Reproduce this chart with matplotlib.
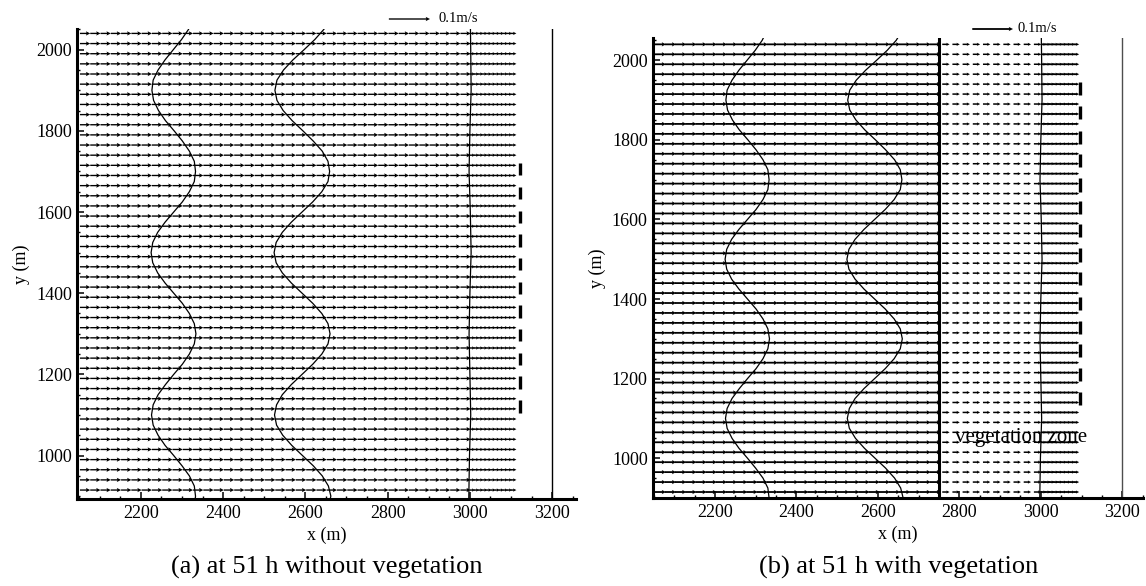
import matplotlib
matplotlib.use('Agg')
import matplotlib.pyplot as plt
import numpy as np

plt.rcParams['font.family'] = ['Liberation Serif', 'DejaVu Serif']

# rows and columns of the computational mesh (m)
row_y = np.arange(915, 2041, 25)
col_open_a = np.arange(2052, 2990, 25)
col_near_a = np.arange(3000, 3110, 10)
col_open_b = np.arange(2052, 2745, 25)
col_veg_b = np.arange(2758, 2990, 25)
col_near_b = np.arange(3000, 3084, 10)

# x-velocity in each zone (m/s)
u_open_a = 0.025
u_near_a = 0.013
u_open_b = 0.028
u_veg_b = 0.018
u_near_b = 0.014

# cross-shore velocity at the closed end (tops of the bars, m)
bars_a = [1720, 1662, 1603, 1545, 1486, 1428, 1370, 1311, 1253, 1195, 1136]
bars_b = [1946, 1885, 1823, 1765, 1703, 1647, 1588, 1527, 1468, 1405, 1346, 1287, 1226, 1166]
bar_len_a = 30
bar_len_b = 33
end_a = 3121
end_b = 3097

# wavy lines
curve_y = [875, 900, 925, 950, 975, 1000, 1025, 1050, 1075, 1100, 1125, 1150, 1175, 1200,
           1225, 1250, 1275, 1300, 1325, 1350, 1375, 1400, 1425, 1450, 1475, 1500, 1525,
           1550, 1575, 1600, 1625, 1650, 1675, 1700, 1725, 1750, 1775, 1800, 1825, 1850,
           1875, 1900, 1925, 1950, 1975, 2000, 2025, 2050, 2075]
curve1_x = [2330, 2333, 2330, 2318, 2300, 2280, 2259, 2242, 2230, 2226, 2230, 2242, 2260, 2280,
            2301, 2318, 2330, 2334, 2330, 2318, 2301, 2280, 2259, 2241, 2229, 2225, 2229,
            2241, 2259, 2280, 2301, 2318, 2330, 2333, 2330, 2318, 2301, 2281, 2260, 2243,
            2231, 2227, 2230, 2242, 2259, 2279, 2299, 2316, 2328]
curve2_x = [2656, 2662, 2656, 2641, 2619, 2593, 2567, 2545, 2530, 2525, 2530, 2544, 2566, 2592,
            2618, 2640, 2655, 2660, 2655, 2640, 2618, 2592, 2566, 2544, 2529, 2524, 2529,
            2544, 2566, 2592, 2618, 2640, 2655, 2659, 2655, 2641, 2619, 2594, 2568, 2546,
            2531, 2526, 2531, 2547, 2570, 2597, 2623, 2645, 2660]
line3_y = [875, 1000, 1100, 1200, 1300, 1400, 1500, 1600, 1700, 1800, 1900, 2000, 2075]
line3_x = [2997, 2999, 3002, 3000, 2998, 3000, 3003, 3001, 2998, 3000, 3003, 3002, 3001]
boundary_x = 3199
veg_edge = 2750

fig = plt.figure(figsize=(11.46, 5.86), dpi=100)
ax1 = fig.add_axes([0.0676, 0.1485, 0.4354, 0.8014])
ax2 = fig.add_axes([0.570, 0.1502, 0.4271, 0.785])


def field(ax, cols, u, w, hw=3.0):
    X, Y = np.meshgrid(cols, row_y)
    U = np.full(X.shape, u)
    V = np.zeros(X.shape)
    return ax.quiver(X, Y, U, V, angles='xy', scale_units='xy', scale=0.001,
                     units='dots', width=w, headwidth=hw, headlength=hw,
                     headaxislength=hw * 0.85, color='black', zorder=2)


# panel (a)
q1 = field(ax1, col_open_a, u_open_a, 1.35, 3.2)
field(ax1, col_near_a, u_near_a, 1.4, 2.4)
ax1.vlines([end_a] * len(bars_a), np.array(bars_a) - bar_len_a, bars_a, color='black', lw=2.4)
ax1.plot(curve1_x, curve_y, color='black', lw=0.9)
ax1.plot(curve2_x, curve_y, color='black', lw=0.9)
ax1.plot(line3_x, line3_y, color='black', lw=0.9)
ax1.axvline(boundary_x, color='black', lw=1.0)
ax1.set_xlim(2046, 3259)
ax1.set_ylim(893, 2034)
ax1.quiverkey(q1, 430 / 1146, 1 - 19 / 586, 0.1, '0.1m/s', labelpos='E',
              coordinates='figure', labelsep=0.08, fontproperties={'size': 10.5})

# panel (b)
q2 = field(ax2, col_open_b, u_open_b, 1.8, 2.4)
field(ax2, col_veg_b, u_veg_b, 1.5, 2.2)
field(ax2, col_near_b, u_near_b, 1.8, 1.8)
ax2.vlines([end_b] * len(bars_b), np.array(bars_b) - bar_len_b, bars_b, color='black', lw=2.4)
ax2.plot(curve1_x, curve_y, color='black', lw=0.9)
ax2.plot(curve2_x, curve_y, color='black', lw=0.9)
ax2.plot(line3_x, line3_y, color='black', lw=0.9)
ax2.axvline(veg_edge, color='black', lw=2.2)
ax2.axvline(boundary_x, color='0.3', lw=1.0)
ax2.text(2790, 1051, 'vegetation zone', fontsize=15, va='center', ha='left')
ax2.set_xlim(2048.6, 3244)
ax2.set_ylim(929, 2056)
ax2.quiverkey(q2, 1013 / 1146, 1 - 29 / 586, 0.1, '0.1m/s', labelpos='E',
              coordinates='figure', labelsep=0.05, fontproperties={'size': 10.5})

for ax in (ax1, ax2):
    ax.spines['top'].set_visible(False)
    ax.spines['right'].set_visible(False)
    ax.spines['left'].set_linewidth(2.2)
    ax.spines['bottom'].set_linewidth(2.2)
    ax.set_xticks([2200, 2400, 2600, 2800, 3000, 3200])
    ax.set_xticks(np.arange(2050, 3260, 50), minor=True)
    ax.set_yticks([1000, 1200, 1400, 1600, 1800, 2000])
    ax.set_yticks(np.arange(900, 2060, 50), minor=True)
    ax.tick_params(which='major', direction='in', length=5, width=1.1, labelsize=13, pad=4)
    ax.tick_params(which='minor', direction='in', length=2.5, width=1.0)
    ax.set_xlabel('x (m)', fontsize=13)
    ax.set_ylabel('y (m)', fontsize=13)

fig.text(327 / 1146, 1 - 567 / 586, '(a) at 51 h without vegetation', fontsize=19,
         ha='center', va='center')
fig.text(899 / 1146, 1 - 567 / 586, '(b) at 51 h with vegetation', fontsize=19,
         ha='center', va='center')

fig.savefig('out.png', dpi=100)
